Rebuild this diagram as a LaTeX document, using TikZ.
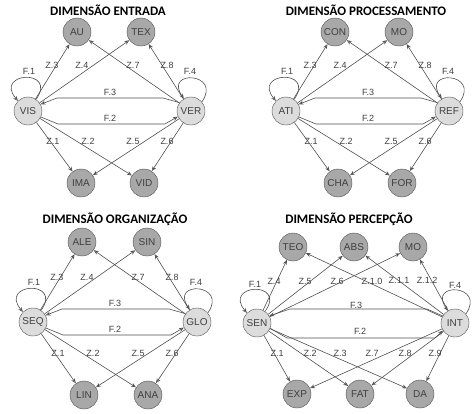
\documentclass[tikz,border=0pt]{standalone}
\usepackage{fontspec}
\setmainfont{Liberation Sans}
\newfontfamily\titfont{Carlito}
\usetikzlibrary{arrows.meta}
\definecolor{escuro}{HTML}{A8A8A8}
\definecolor{claro}{HTML}{DCDCDC}
\definecolor{traco}{HTML}{505050}
\definecolor{letra}{HTML}{404040}
\tikzset{
  cat/.style={circle, draw=traco, fill=escuro, minimum size=28pt, inner sep=0pt,
    text=letra, font=\fontsize{10}{12}\selectfont},
  dim/.style={cat, fill=claro},
  rot/.style={text=letra, font=\fontsize{9}{10}\selectfont, inner sep=0pt},
  tit/.style={font=\titfont\bfseries\fontsize{13}{15}\selectfont},
  seta/.style={draw=traco, line width=0.6pt, -{Stealth[open,length=5pt,width=4pt]}}
}
\begin{document}
\begin{tikzpicture}[x=1pt,y=-1pt]
  \useasboundingbox (0,0) rectangle (474,413);
  % entrada
  \begin{scope}
    \node[tit] (t1) at (108,10) {DIMENSÃO ENTRADA};
    %nos
    \node[cat] (au) at (77,32) {AU};
    \node[cat] (tex) at (141,32) {TEX};
    \node[dim] (vis) at (28,111) {VIS};
    \node[dim] (ver) at (191,111) {VER};
    \node[cat] (ima) at (81,183) {IMA};
    \node[cat] (vid) at (144,183) {VID};
    %arestas
    \draw[seta] (vis) -- (au);
    \draw[seta] (vis) -- (tex);
    \draw[seta] (ver) -- (au);
    \draw[seta] (ver) -- (tex);
    \draw[seta] (vis) -- (ima);
    \draw[seta] (vis) -- (vid);
    \draw[seta] (ver) -- (ima);
    \draw[seta] (ver) -- (vid);
    \draw[seta] (ver.144) -- (163,98) -- (57,98) -- (vis.28);
    \draw[seta] (vis.-25) -- (58,124) -- (165,124) -- (ver.203);
    %lacos
    \draw[seta] (vis.55) .. controls +(55:38pt) and +(130:38pt) .. (vis.135);
    \draw[seta] (ver.40) .. controls +(55:36pt) and +(125:36pt) .. (ver.120);
    %rotulos
    \node[rot] (e1f1) at (29,71) {F.1};
    \node[rot] (e1z3) at (52,65) {Z.3};
    \node[rot] (e1z4) at (82,65) {Z.4};
    \node[rot] (e1z7) at (133,65) {Z.7};
    \node[rot] (e1z8) at (167,65) {Z.8};
    \node[rot] (e1f4) at (190,71) {F.4};
    \node[rot] (e1f3) at (110,92) {F.3};
    \node[rot] (e1f2) at (110,118) {F.2};
    \node[rot] (e1z1) at (53,141) {Z.1};
    \node[rot] (e1z2) at (88,141) {Z.2};
    \node[rot] (e1z5) at (133,141) {Z.5};
    \node[rot] (e1z6) at (167,141) {Z.6};
  \end{scope}
  % processamento
  \begin{scope}[shift={(258,0)}]
    \node[tit] (t2) at (108,10) {DIMENSÃO PROCESSAMENTO};
    %nos
    \node[cat] (con) at (77,32) {CON};
    \node[cat] (mo) at (141,32) {MO};
    \node[dim] (ati) at (28,111) {ATI};
    \node[dim] (ref) at (191,111) {REF};
    \node[cat] (cha) at (80,183) {CHA};
    \node[cat] (for) at (144,183) {FOR};
    %arestas
    \draw[seta] (ati) -- (con);
    \draw[seta] (ati) -- (mo);
    \draw[seta] (ref) -- (con);
    \draw[seta] (ref) -- (mo);
    \draw[seta] (ati) -- (cha);
    \draw[seta] (ati) -- (for);
    \draw[seta] (ref) -- (cha);
    \draw[seta] (ref) -- (for);
    \draw[seta] (ref.144) -- (163,98) -- (57,98) -- (ati.28);
    \draw[seta] (ati.-25) -- (58,124) -- (165,124) -- (ref.203);
    %lacos
    \draw[seta] (ati.55) .. controls +(55:38pt) and +(130:38pt) .. (ati.135);
    \draw[seta] (ref.40) .. controls +(55:36pt) and +(125:36pt) .. (ref.120);
    %rotulos
    \node[rot] (e2f1) at (29,71) {F.1};
    \node[rot] (e2z3) at (52,65) {Z.3};
    \node[rot] (e2z4) at (82,65) {Z.4};
    \node[rot] (e2z7) at (133,65) {Z.7};
    \node[rot] (e2z8) at (167,65) {Z.8};
    \node[rot] (e2f4) at (190,71) {F.4};
    \node[rot] (e2f3) at (110,92) {F.3};
    \node[rot] (e2f2) at (110,118) {F.2};
    \node[rot] (e2z1) at (53,141) {Z.1};
    \node[rot] (e2z2) at (88,141) {Z.2};
    \node[rot] (e2z5) at (133,141) {Z.5};
    \node[rot] (e2z6) at (167,141) {Z.6};
  \end{scope}
  % organizacao
  \begin{scope}[shift={(5,210)}]
    \node[tit] (t3) at (110,9) {DIMENSÃO ORGANIZAÇÃO};
    %nos
    \node[cat] (ale) at (77,32) {ALE};
    \node[cat] (sin) at (142,32) {SIN};
    \node[dim] (seq) at (28,112) {SEQ};
    \node[dim] (glo) at (192,112) {GLO};
    \node[cat] (lin) at (79,185) {LIN};
    \node[cat] (ana) at (143,185) {ANA};
    %arestas
    \draw[seta] (seq) -- (ale);
    \draw[seta] (seq) -- (sin);
    \draw[seta] (glo) -- (ale);
    \draw[seta] (glo) -- (sin);
    \draw[seta] (seq) -- (lin);
    \draw[seta] (seq) -- (ana);
    \draw[seta] (glo) -- (lin);
    \draw[seta] (glo) -- (ana);
    \draw[seta] (glo.144) -- (164,99) -- (57,99) -- (seq.28);
    \draw[seta] (seq.-25) -- (58,125) -- (166,125) -- (glo.203);
    %lacos
    \draw[seta] (seq.55) .. controls +(55:38pt) and +(130:38pt) .. (seq.135);
    \draw[seta] (glo.40) .. controls +(55:36pt) and +(125:36pt) .. (glo.120);
    %rotulos
    \node[rot] (e3f1) at (29,72) {F.1};
    \node[rot] (e3z3) at (52,67) {Z.3};
    \node[rot] (e3z4) at (82,67) {Z.4};
    \node[rot] (e3z7) at (133,67) {Z.7};
    \node[rot] (e3z8) at (167,67) {Z.8};
    \node[rot] (e3f4) at (191,72) {F.4};
    \node[rot] (e3f3) at (110,93) {F.3};
    \node[rot] (e3f2) at (110,119) {F.2};
    \node[rot] (e3z1) at (53,143) {Z.1};
    \node[rot] (e3z2) at (88,143) {Z.2};
    \node[rot] (e3z5) at (133,143) {Z.5};
    \node[rot] (e3z6) at (167,143) {Z.6};
  \end{scope}
  % percepcao
  \begin{scope}[shift={(237,206)}]
    \node[tit] (t4) at (112,13) {DIMENSÃO PERCEPÇÃO};
    %nos
    \node[cat] (teo) at (56,41) {TEO};
    \node[cat] (abs) at (117,41) {ABS};
    \node[cat] (mop) at (176,41) {MO};
    \node[dim] (sen) at (20,117) {SEN};
    \node[dim] (int) at (218,117) {INT};
    \node[cat] (exp) at (60,188) {EXP};
    \node[cat] (fat) at (123,188) {FAT};
    \node[cat] (da) at (183,188) {DA};
    %arestas
    \draw[seta] (sen) -- (teo);
    \draw[seta] (sen) -- (abs);
    \draw[seta] (sen) -- (mop);
    \draw[seta] (int) -- (teo);
    \draw[seta] (int) -- (abs);
    \draw[seta] (int) -- (mop);
    \draw[seta] (sen) -- (exp);
    \draw[seta] (sen) -- (fat);
    \draw[seta] (sen) -- (da);
    \draw[seta] (int) -- (exp);
    \draw[seta] (int) -- (fat);
    \draw[seta] (int) -- (da);
    \draw[seta] (int.150) -- (190,103) -- (53,103) -- (sen.30);
    \draw[seta] (sen.-22) -- (50,132) -- (198,132) -- (int.212);
    %lacos
    \draw[seta] (sen.55) .. controls +(55:38pt) and +(130:38pt) .. (sen.135);
    \draw[seta] (int.40) .. controls +(55:36pt) and +(125:36pt) .. (int.120);
    %rotulos
    \node[rot] (e4f1) at (18,78) {F.1};
    \node[rot] (e4z4) at (37,75) {Z.4};
    \node[rot] (e4z5) at (68,75) {Z.5};
    \node[rot] (e4z6) at (100,75) {Z.6};
    \node[rot] (e4z10) at (135,75) {Z.1.0};
    \node[rot] (e4z11) at (162,74) {Z.1.1};
    \node[rot] (e4z12) at (190,74) {Z.1.2};
    \node[rot] (e4f4) at (218,79) {F.4};
    \node[rot] (e4f3) at (119,99) {F.3};
    \node[rot] (e4f2) at (123,125) {F.2};
    \node[rot] (e4z1) at (40,147) {Z.1};
    \node[rot] (e4z2) at (73,147) {Z.2};
    \node[rot] (e4z3) at (103,147) {Z.3};
    \node[rot] (e4z7) at (135,147) {Z.7};
    \node[rot] (e4z8) at (168,147) {Z.8};
    \node[rot] (e4z9) at (198,147) {Z.9};
  \end{scope}
\end{tikzpicture}
\end{document}
